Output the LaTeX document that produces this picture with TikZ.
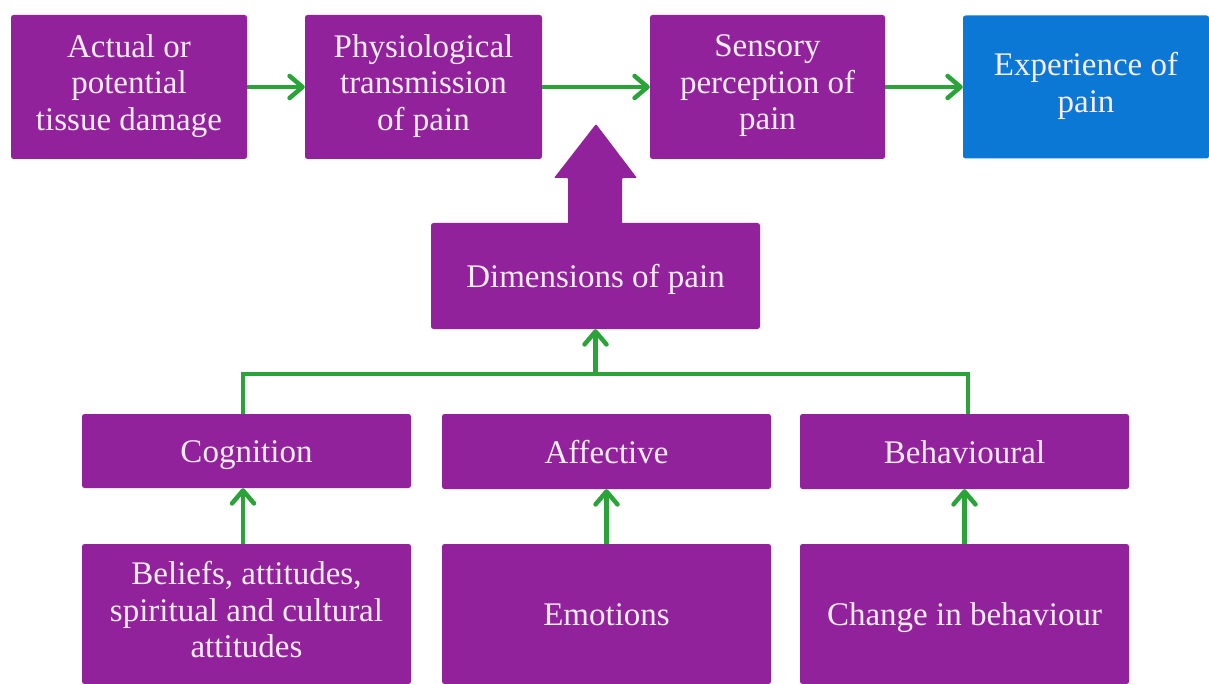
\documentclass[tikz,border=0pt]{standalone}
\usepackage{fontspec}
\setmainfont{Liberation Serif}
\usetikzlibrary{arrows.meta,calc}
\definecolor{pur}{RGB}{146,34,155}
\definecolor{blu}{RGB}{10,120,212}
\definecolor{grn}{RGB}{42,164,56}
\definecolor{txt}{RGB}{250,236,250}
\begin{document}
\begin{tikzpicture}[x=1pt,y=-1pt,
  box/.style={fill=pur,rounded corners=2.5pt,text=txt,align=center,inner sep=0pt,
    font=\fontsize{33}{36.5}\selectfont,
    execute at begin node={\rule{0pt}{32pt}},
    execute at end node={\rule[-9pt]{0pt}{9pt}}},
  bluebox/.style={box,fill=blu},
  garrow/.style={draw=grn,line width=4.5pt,-{Straight Barb[length=13pt,width=22pt,line width=4.5pt,round]}},
  gline/.style={draw=grn,line width=4.5pt}]
\useasboundingbox (0,0) rectangle (1209,684);
% top row
\node[box,minimum width=236pt,minimum height=144pt] (b1) at (129,87) {Actual or\\potential\\tissue damage};
\node[box,minimum width=237pt,minimum height=144pt] (b2) at (423.5,87) {Physiological\\transmission\\of pain};
\node[box,minimum width=235pt,minimum height=144pt] (b3) at (767.5,87) {Sensory\\perception of\\pain};
\node[bluebox,minimum width=246pt,minimum height=143pt] (b4) at (1086,87) {Experience of\\pain};
\draw[garrow] (b1) -- (b2);
\draw[garrow] (b2) -- (b3);
\draw[garrow] (b3) -- (b4);
% block arrow
\fill[pur,rounded corners=1pt] (568,226) -- (568,178) -- (554,178) -- (596,124) -- (637,178) -- (622,178) -- (622,226) -- cycle;
\node[box,minimum width=329pt,minimum height=106pt] (dims) at (595.5,276) {Dimensions of pain};
% middle row
\node[box,minimum width=329pt,minimum height=74pt] (cog) at (246.5,451) {Cognition};
\node[box,minimum width=329pt,minimum height=75pt] (aff) at (606.5,451.5) {Affective};
\node[box,minimum width=329pt,minimum height=75pt] (beh) at (964.5,451.5) {Behavioural};
% bottom row
\node[box,minimum width=329pt,minimum height=140pt] (bel) at (246.5,614) {Beliefs, attitudes,\\spiritual and cultural\\attitudes};
\node[box,minimum width=329pt,minimum height=140pt] (emo) at (606.5,614) {Emotions};
\node[box,minimum width=329pt,minimum height=140pt] (chg) at (964.5,614) {Change in behaviour};
\draw[garrow] (bel.north -| {243,0}) -- (cog.south -| {243,0});
\draw[garrow] (emo) -- (aff);
\draw[garrow] (chg) -- (beh);
% connector
\coordinate (jl) at (243,374);
\coordinate (jr) at (968,374);
\draw[gline,line join=miter] (cog.north -| jl) -- (jl) -- (jr) -- (beh.north -| jr);
\draw[garrow] (dims.south |- jl) -- (dims.south);
\end{tikzpicture}
\end{document}
